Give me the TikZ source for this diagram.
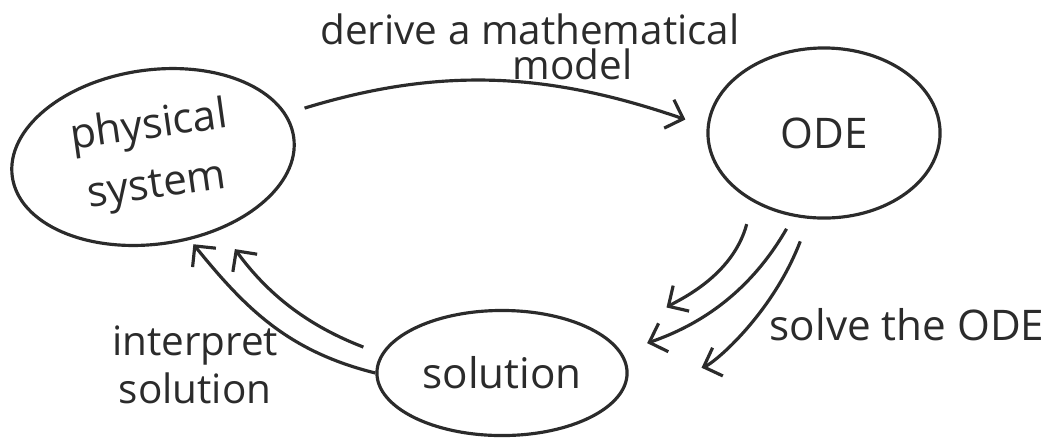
\documentclass[tikz,border=0pt]{standalone}
\usepackage{fontspec}
\setmainfont{Open Sans}
\usetikzlibrary{shapes.geometric,arrows.meta}
\definecolor{ink}{HTML}{2B2B2B}

\begin{document}
\begin{tikzpicture}[x=0.01cm,y=0.01cm,color=ink,
  blob/.style={draw, ellipse, line width=0.9pt},
  word/.style={font=\fontsize{12}{14}\selectfont, align=center},
  arr/.style={line width=0.9pt, -{Straight Barb[length=1.5mm,width=3mm]}}]
\tikzstyle{every node}+=[inner sep=0pt]
\useasboundingbox (0,0) rectangle (1052,438);
\node [blob, word, font=\fontsize{12}{17}\selectfont, rotate=8, minimum width=2.84cm, minimum height=1.74cm] (phys) at (153,281) {physical\\system};
\node [blob, word, minimum width=2.32cm, minimum height=1.70cm] (ode) at (824,305) {ODE};
\node [blob, word, minimum width=2.50cm, minimum height=1.25cm] (sol) at (502,65) {solution};
\node [word, font=\fontsize{11.5}{10}\selectfont] (derive) at (530,391) {derive a mathematical\\\hspace*{0.85cm}model};
\node [word] (solve) at (907,113) {solve the ODE};
\node [word, font=\fontsize{11.5}{13.5}\selectfont] (interp) at (195,73) {interpret\\solution};
\draw [arr, shorten <=0.19cm, shorten >=0.225cm] (phys.10) to [out=17, in=161] (ode.177);
\draw [arr, shorten <=0.23cm, shorten >=0.64cm] (ode.-136) to [out=-105, in=32] (sol.16);
\draw [arr, shorten <=0.14cm, shorten >=0.27cm] (ode.-110) to [out=-120, in=19] (sol.10);
\draw [arr, shorten <=0.24cm, shorten >=0.88cm] (ode.-100) to [out=-111, in=20] (sol.-12);
\draw [arr, shorten >=0.055cm] (sol.180) to [out=166, in=-51] (phys.-74);
\draw [arr, shorten <=0.19cm, shorten >=0.24cm] (sol.171) to [out=159, in=-54] (phys.-55);
\end{tikzpicture}
\end{document}
